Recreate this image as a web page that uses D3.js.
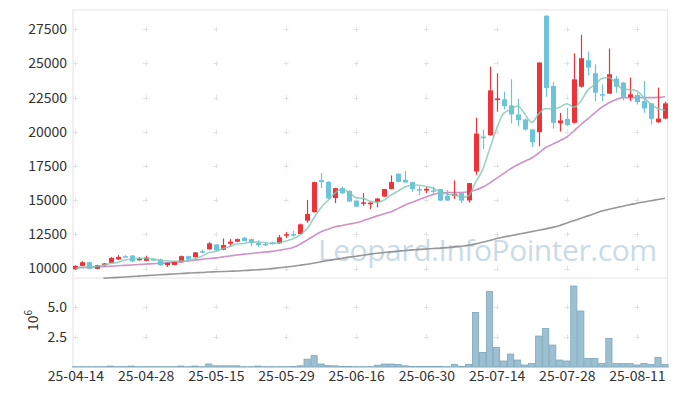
<!DOCTYPE html>
<html lang="en">
<head>
	<meta charset="UTF-8">
	<title>Candles</title>
	<script src="https://cdn.jsdelivr.net/npm/d3@7"></script>
	<style>
		body {
			margin: 0;
			background-color: #ffffff;
		}
		.tick text, .label {
			font-family: "Noto Sans CJK KR", "Noto Sans", sans-serif;
			font-size: 14px;
			fill: #333333;
		}
		.frame {
			fill: none;
			stroke: #e4e4e4;
			stroke-width: 1px;
		}
		.cross {
			stroke: #e2e2e2;
			stroke-width: 1px;
		}
		.watermark {
			font-family: "Open Sans", "Noto Sans", sans-serif;
			font-size: 30px;
			fill: #cadbe7;
		}
	</style>
</head>
<body>
<script>

	// trading days, 25-04-14 .. 25-08-18
	var dates = ['25-04-14','25-04-15','25-04-16','25-04-17','25-04-18','25-04-21','25-04-22','25-04-23','25-04-24','25-04-25',
		'25-04-28','25-04-29','25-04-30','25-05-02','25-05-07','25-05-08','25-05-09','25-05-12','25-05-13','25-05-14',
		'25-05-15','25-05-16','25-05-19','25-05-20','25-05-21','25-05-22','25-05-23','25-05-26','25-05-27','25-05-28',
		'25-05-29','25-05-30','25-06-02','25-06-04','25-06-05','25-06-09','25-06-10','25-06-11','25-06-12','25-06-13',
		'25-06-16','25-06-17','25-06-18','25-06-19','25-06-20','25-06-23','25-06-24','25-06-25','25-06-26','25-06-27',
		'25-06-30','25-07-01','25-07-02','25-07-03','25-07-04','25-07-07','25-07-08','25-07-09','25-07-10','25-07-11',
		'25-07-14','25-07-15','25-07-16','25-07-17','25-07-18','25-07-21','25-07-22','25-07-23','25-07-24','25-07-25',
		'25-07-28','25-07-29','25-07-30','25-07-31','25-08-01','25-08-04','25-08-05','25-08-06','25-08-07','25-08-08',
		'25-08-11','25-08-12','25-08-13','25-08-14','25-08-18'];

	var opens = [9950,10190,10460,9970,10240,10410,10660,10900,10950,10610,
		10560,10680,10660,10240,10260,10460,10900,10830,11270,11400,
		11760,11370,11810,11960,12250,12150,11860,11800,11910,11840,
		12480,12520,12520,13500,14120,16470,16340,15150,15880,15680,
		14950,14800,14700,14870,15260,15810,16930,16490,16320,15810,
		15700,15720,15810,15310,15310,15510,14980,17100,19650,19750,
		22320,22370,21930,21270,20900,20170,19970,28490,23350,20630,
		20950,20660,23300,25240,24280,22750,22790,23890,23600,22540,
		22690,22250,22080,20700,20970];

	var highs = [10240,10540,10500,10270,10400,10830,10980,10980,10980,10830,
		10930,10720,10720,10430,10540,10940,10940,11200,11400,11930,
		11790,12200,12150,12190,12300,12190,12060,11930,11950,12450,
		12670,12760,13290,15020,16340,16980,16380,15900,16000,15720,
		14980,15510,14870,15150,15830,16810,16970,17130,16340,16000,
		15950,16000,15830,15750,16440,15530,16250,21030,20170,24770,
		24280,22940,23840,22420,20980,20200,25070,28540,23640,21390,
		21760,25750,27100,25880,24940,23470,26100,24080,23660,23970,
		22860,23720,22110,23230,22200];

	var lows = [9910,10170,9950,9950,10170,10380,10640,10830,10460,10580,
		10530,10610,10200,10110,10240,10430,10620,10800,11100,11380,
		11300,11340,11590,11930,11980,11620,11570,11640,11760,11800,
		12230,12320,12490,13350,14100,15880,15090,14780,15460,14870,
		14510,14580,14360,14480,15240,15790,16300,16270,15610,15370,
		15510,15390,14950,14950,15090,14780,14820,16860,18750,19720,
		21470,21640,20610,20410,20090,18890,18940,22570,20240,20020,
		20420,20600,23250,24130,22250,22250,22770,22860,22300,22250,
		22000,21390,20530,20660,20930];

	var closes = [10190,10460,9970,10240,10370,10780,10850,10880,10520,10710,
		10810,10650,10240,10410,10500,10900,10650,11180,11260,11840,
		11320,11710,11960,12150,12010,11860,11710,11780,11790,12280,
		12510,12490,13230,13990,16320,16320,15120,15880,15510,14900,
		14530,14840,14820,15120,15810,16320,16340,16290,15810,15700,
		15830,15700,14970,14970,15460,14970,16250,19870,19530,23030,
		22440,21880,21270,20850,20170,19230,25070,23200,20660,20830,
		20500,23840,25380,24700,22860,22720,24210,23300,22500,22740,
		22170,21710,20950,20970,22080];

	// volume in millions
	var volumes = [0.03,0.03,0.03,0.03,0.03,0.08,0.03,0.03,0.08,0.03,
		0.03,0.03,0.03,0.03,0.03,0.08,0.03,0.08,0.03,0.25,
		0.1,0.1,0.1,0.1,0.03,0.03,0.08,0.03,0.03,0.03,
		0.03,0.05,0.1,0.65,0.95,0.25,0.12,0.1,0.05,0.05,
		0.03,0.03,0.03,0.15,0.25,0.25,0.2,0.1,0.05,0.05,
		0.05,0.05,0.05,0.03,0.22,0.06,0.22,4.55,1.22,6.3,
		1.64,0.5,1.08,0.58,0.17,0.3,2.58,3.22,1.83,0.58,
		0.5,6.75,4.67,0.72,0.72,0.3,2.39,0.3,0.3,0.3,
		0.17,0.3,0.22,0.8,0.22];

	var ma5 = [10000,10080,10100,10150,10247,10365,10443,10625,10679,10747,
		10753,10712,10585,10564,10523,10542,10541,10728,10897,11164,
		11248,11461,11617,11797,11830,11938,11938,11903,11829,11884,
		12014,12169,12460,12901,13709,14471,14997,15526,15830,15545,
		15186,15131,14920,14840,15023,15381,15682,15976,16114,16093,
		15995,15866,15602,15434,15386,15214,15323,16304,17215,18729,
		20224,21350,21630,21894,21321,20678,21316,21703,21665,21797,
		22050,21804,22241,23049,23456,23901,23975,23559,23118,23093,
		22983,22484,22013,21709,21577];

	var ma20 = [10050,10070,10090,10110,10140,10170,10200,10230,10260,10290,
		10320,10350,10380,10410,10450,10500,10550,10610,10670,10730,
		10780,10850,10920,10990,11050,11100,11150,11200,11250,11330,
		11420,11540,11780,12080,12400,12690,12880,13050,13150,13250,
		13350,13500,13680,13850,14000,14160,14400,14650,14850,15050,
		15250,15420,15520,15560,15560,15560,15620,15750,15950,16250,
		16600,16950,17300,17590,17850,18080,18450,18850,19100,19350,
		19620,20050,20530,20950,21390,21800,22130,22350,22500,22500,
		22500,22500,22500,22520,22570];

	var ma120 = [null,null,null,null,9290,9320,9350,9380,9410,9445,
		9480,9510,9540,9570,9600,9630,9660,9690,9710,9740,
		9760,9780,9800,9820,9850,9880,9910,9950,9990,10050,
		10110,10170,10240,10310,10400,10490,10580,10670,10750,10830,
		10900,10970,11050,11120,11170,11220,11270,11320,11360,11400,
		11430,11460,11490,11530,11580,11630,11700,11800,11920,12050,
		12190,12300,12400,12500,12600,12700,12800,12900,13010,13150,
		13330,13500,13680,13850,14020,14200,14330,14450,14560,14670,
		14780,14870,14960,15050,15140];

	var priceTicks = [10000, 12500, 15000, 17500, 20000, 22500, 25000, 27500];
	var volTicks = [2.5, 5.0];
	var dateTickIdx = [0, 10, 20, 30, 40, 50, 60, 70, 80];

	var plotLeft = 73, plotRight = 667.5, plotTop = 10, priceBottom = 278, volBottom = 367;
	var upColor = '#ee3338', downColor = '#6cc3da';

	var svg = d3.select('body').append('svg')
		.attr('width', 677)
		.attr('height', 396);

	var x = d3.scaleLinear()
		.domain([-0.35, dates.length - 1 + 0.35])
		.range([plotLeft, plotRight]);

	var y = d3.scaleLinear()
		.domain([9305, 28912])
		.range([priceBottom, plotTop]);

	var yv = d3.scaleLinear()
		.domain([0, 7.42])
		.range([volBottom, priceBottom]);

	var bodyW = 5, barW = 6.2;

	// watermark
	svg.append('text')
		.attr('class', 'watermark')
		.attr('x', 318)
		.attr('y', 261)
		.attr('textLength', 339)
		.text('Leopard.InfoPointer.com');

	// frame
	svg.append('rect')
		.attr('class', 'frame')
		.attr('x', plotLeft)
		.attr('y', plotTop)
		.attr('width', plotRight - plotLeft)
		.attr('height', volBottom - plotTop);
	svg.append('line')
		.attr('class', 'frame')
		.attr('x1', plotLeft).attr('x2', plotRight)
		.attr('y1', priceBottom).attr('y2', priceBottom);

	// cross markers at grid intersections
	var gridY = priceTicks.map(y).concat(volTicks.map(yv));
	var crosses = [];
	dateTickIdx.forEach(function (i) {
		gridY.forEach(function (gy) {
			crosses.push([x(i), gy]);
		});
	});
	var cg = svg.append('g');
	cg.selectAll('.ch')
		.data(crosses)
		.enter()
		.append('line')
		.attr('class', 'cross')
		.attr('x1', function (d) { return d[0] - 2.5; })
		.attr('x2', function (d) { return d[0] + 2.5; })
		.attr('y1', function (d) { return Math.round(d[1]) + 0.5; })
		.attr('y2', function (d) { return Math.round(d[1]) + 0.5; });
	cg.selectAll('.cv')
		.data(crosses)
		.enter()
		.append('line')
		.attr('class', 'cross')
		.attr('x1', function (d) { return Math.round(d[0]) + 0.5; })
		.attr('x2', function (d) { return Math.round(d[0]) + 0.5; })
		.attr('y1', function (d) { return d[1] - 2.5; })
		.attr('y2', function (d) { return d[1] + 2.5; });

	// axes
	var yAxis = svg.append('g')
		.attr('transform', 'translate(' + plotLeft + ',0)')
		.call(d3.axisLeft(y).tickValues(priceTicks).tickFormat(d3.format('d')).tickSize(0).tickPadding(6));
	yAxis.select('.domain').remove();

	var vAxis = svg.append('g')
		.attr('transform', 'translate(' + plotLeft + ',0)')
		.call(d3.axisLeft(yv).tickValues(volTicks).tickFormat(d3.format('.1f')).tickSize(0).tickPadding(6));
	vAxis.select('.domain').remove();

	var xAxis = svg.append('g')
		.attr('transform', 'translate(0,' + volBottom + ')')
		.call(d3.axisBottom(x)
			.tickValues(dateTickIdx)
			.tickFormat(function (i) { return dates[i]; })
			.tickSize(0)
			.tickPadding(4));
	xAxis.select('.domain').remove();

	svg.append('text')
		.attr('class', 'label')
		.attr('transform', 'translate(38,331) rotate(-90)')
		.text('10')
		.append('tspan')
		.attr('dy', -6)
		.style('font-size', '10px')
		.text('6');

	// volume bars
	svg.selectAll('.vol')
		.data(volumes)
		.enter()
		.append('rect')
		.attr('class', 'vol')
		.attr('x', function (d, i) { return x(i) - barW / 2; })
		.attr('y', function (d) { return yv(d); })
		.attr('width', barW)
		.attr('height', function (d) { return volBottom - yv(d); })
		.style('fill', '#9cc0d1')
		.style('stroke', '#7ea7bb')
		.style('stroke-width', 0.8);

	// moving averages
	function maLine(data, color, width, opacity) {
		var line = d3.line()
			.defined(function (d) { return d !== null; })
			.x(function (d, i) { return x(i); })
			.y(function (d) { return y(d); })
			.curve(d3.curveMonotoneX);
		svg.append('path')
			.datum(data)
			.attr('d', line)
			.style('fill', 'none')
			.style('stroke', color)
			.style('stroke-width', width)
			.style('opacity', opacity);
	}
	maLine(ma120, '#8c8c8c', 1.6, 0.9);
	maLine(ma20, '#c77fbc', 1.6, 0.85);

	// candles
	var candles = svg.selectAll('.candle')
		.data(dates)
		.enter()
		.append('g')
		.attr('class', 'candle');

	candles.append('line')
		.attr('x1', function (d, i) { return Math.round(x(i)) + 0.5; })
		.attr('x2', function (d, i) { return Math.round(x(i)) + 0.5; })
		.attr('y1', function (d, i) { return y(highs[i]); })
		.attr('y2', function (d, i) { return y(lows[i]); })
		.style('stroke', function (d, i) { return closes[i] >= opens[i] ? upColor : downColor; })
		.style('stroke-width', 1.2);

	candles.append('rect')
		.attr('x', function (d, i) { return Math.round(x(i)) + 0.5 - bodyW / 2; })
		.attr('y', function (d, i) { return y(Math.max(opens[i], closes[i])); })
		.attr('width', bodyW)
		.attr('height', function (d, i) {
			return Math.max(1.5, Math.abs(y(opens[i]) - y(closes[i])));
		})
		.style('fill', function (d, i) { return closes[i] >= opens[i] ? upColor : downColor; });

	maLine(ma5, '#7fc8b4', 1.6, 0.8);

</script>
</body>
</html>
